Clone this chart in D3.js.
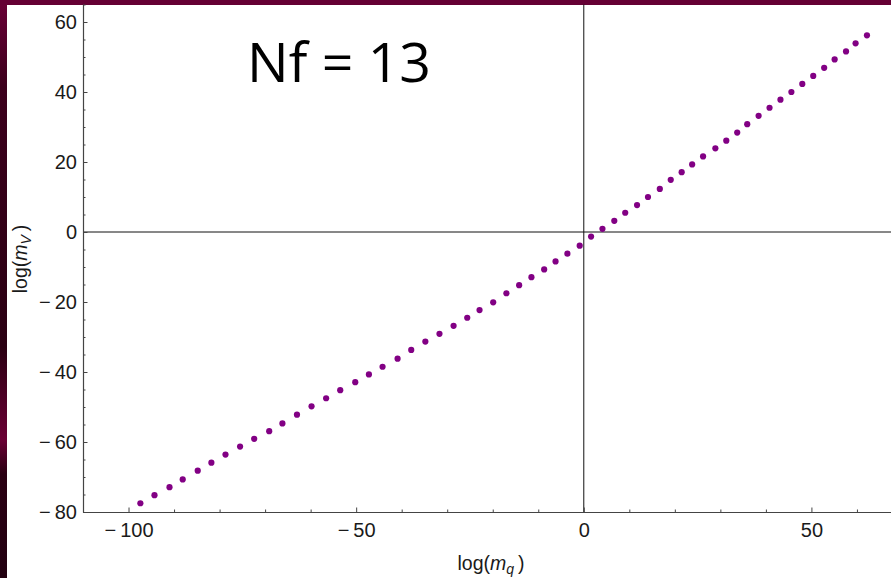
<!DOCTYPE html>
<html>
<head>
<meta charset="utf-8">
<script src="https://cdn.jsdelivr.net/npm/d3@7"></script>
<style>
  html, body { margin: 0; padding: 0; background: #3a0020; }
  svg { display: block; }
  .tick text { font-family: "Liberation Sans", Arial, sans-serif; font-size: 20px; fill: #1a1a1a; }
</style>
</head>
<body>
<div id="chart"></div>
<script>
// values (log m_q, log m_V)
const logMq = [-97.4, -94.3, -91.0, -88.1, -84.8, -81.8, -78.7, -75.5, -72.4, -69.1,
  -66.2, -63.0, -59.8, -56.6, -53.5, -50.2, -47.2, -44.2, -40.9, -37.9,
  -34.8, -31.7, -28.6, -25.6, -22.9, -19.9, -17.0, -14.2, -11.5, -8.7,
  -6.2, -3.6, -0.9, 1.6, 4.1, 6.7, 9.1, 11.7, 14.1, 16.7,
  19.1, 21.5, 23.8, 26.2, 28.9, 31.3, 33.7, 35.9, 38.4, 40.8,
  43.2, 45.6, 48.0, 50.4, 52.8, 55.1, 57.6, 59.7, 62.2];
const logMv = [-77.5, -75.2, -72.9, -70.7, -68.2, -65.9, -63.6, -61.3, -59.1, -56.9,
  -54.7, -52.2, -49.8, -47.5, -45.2, -42.9, -40.7, -38.5, -36.2, -33.7,
  -31.3, -29.1, -26.8, -24.5, -22.3, -20.1, -17.5, -15.2, -12.9, -10.7,
  -8.4, -6.2, -3.9, -1.3, 0.9, 3.2, 5.5, 7.7, 10.0, 12.3,
  14.9, 17.1, 19.3, 21.6, 23.9, 26.1, 28.4, 30.8, 33.2, 35.5,
  37.8, 40.0, 42.3, 44.6, 46.9, 49.3, 51.6, 53.9, 56.2];

const xDomain = [-110, 67.7];
const yDomain = [-80, 65];
const xMajor = [-100, -50, 0, 50];
const xMinor = d3.range(-110, 68, 10).filter(v => !xMajor.includes(v));
const yMajor = [-80, -60, -40, -20, 0, 20, 40, 60];
const yMinor = d3.range(-80, 66, 5).filter(v => !yMajor.includes(v));
const title = "Nf = 13";

const W = 891, H = 578;
const panel = {x: 7, y: 5};
const plot = {l: 83, r: 892, t: 4.5, b: 512};

const svg = d3.select('#chart').append('svg')
  .attr('width', W).attr('height', H);

// slide background
const defs = svg.append('defs');
const grad = defs.append('linearGradient').attr('id', 'bg')
  .attr('x1', 0).attr('y1', 0).attr('x2', 0).attr('y2', 1);
grad.append('stop').attr('offset', '0%').attr('stop-color', '#6a0036');
grad.append('stop').attr('offset', '15%').attr('stop-color', '#3c001c');
grad.append('stop').attr('offset', '60%').attr('stop-color', '#2a0012');
grad.append('stop').attr('offset', '76%').attr('stop-color', '#6a0034');
grad.append('stop').attr('offset', '82%').attr('stop-color', '#2a0012');
grad.append('stop').attr('offset', '100%').attr('stop-color', '#220010');
svg.append('rect').attr('width', W).attr('height', H).attr('fill', 'url(#bg)');
svg.append('rect').attr('width', W).attr('height', panel.y).attr('fill', '#650034');
svg.append('rect').attr('x', panel.x).attr('y', panel.y)
  .attr('width', W - panel.x).attr('height', H - panel.y).attr('fill', '#fff');

const x = d3.scaleLinear().domain(xDomain).range([plot.l, plot.r]);
const y = d3.scaleLinear().domain(yDomain).range([plot.b, plot.t]);

const fmt = d => d < 0 ? '\u2212\u2009' + Math.abs(d) : String(d);

// reference lines at zero
svg.append('line')
  .attr('x1', x(0)).attr('x2', x(0)).attr('y1', y(yDomain[1])).attr('y2', y(yDomain[0]))
  .attr('stroke', '#111').attr('stroke-width', 1);
svg.append('line')
  .attr('x1', x(xDomain[0])).attr('x2', x(xDomain[1])).attr('y1', y(0)).attr('y2', y(0))
  .attr('stroke', '#111').attr('stroke-width', 1);

// x axis
const gx = svg.append('g').attr('transform', `translate(0,${plot.b})`);
gx.call(d3.axisBottom(x).tickValues(xMinor).tickSize(-2.5).tickSizeOuter(0).tickFormat(''));
gx.append('g').call(d3.axisBottom(x).tickValues(xMajor).tickSize(-4.5).tickSizeOuter(0)
  .tickPadding(10.5).tickFormat(fmt));

// y axis
const gy = svg.append('g').attr('transform', `translate(${plot.l},0)`);
gy.call(d3.axisLeft(y).tickValues(yMinor).tickSize(-2.5).tickSizeOuter(0).tickFormat(''));
gy.append('g').call(d3.axisLeft(y).tickValues(yMajor).tickSize(-4.5).tickSizeOuter(0)
  .tickPadding(6).tickFormat(fmt));

svg.selectAll('.domain').attr('stroke', '#444').attr('stroke-width', 1.2);
svg.selectAll('.tick line').attr('stroke', '#444');
gx.selectAll('g > g .domain').remove();
gy.selectAll('g > g .domain').remove();

// points
svg.append('g').selectAll('circle')
  .data(logMq.map((v, i) => ({mq: v, mv: logMv[i]})))
  .join('circle')
  .attr('cx', d => x(d.mq))
  .attr('cy', d => y(d.mv))
  .attr('r', 3.1)
  .attr('fill', '#820084');

// axis labels
const labFont = '"Liberation Sans", Arial, sans-serif';
const xl = svg.append('text')
  .attr('x', 491).attr('y', 570)
  .attr('text-anchor', 'middle')
  .attr('font-family', labFont).attr('font-size', 19.5).attr('fill', '#1a1a1a');
xl.append('tspan').text('log(');
xl.append('tspan').attr('font-style', 'italic').text('m');
xl.append('tspan').attr('font-style', 'italic').attr('font-size', 14).attr('dy', 4).text('q');
xl.append('tspan').attr('dy', -4).text('\u2009)');

const yl = svg.append('text')
  .attr('transform', 'translate(27,259) rotate(-90)')
  .attr('text-anchor', 'middle')
  .attr('font-family', labFont).attr('font-size', 19.5).attr('fill', '#1a1a1a');
yl.append('tspan').text('log(');
yl.append('tspan').attr('font-style', 'italic').text('m');
yl.append('tspan').attr('font-style', 'italic').attr('font-size', 14).attr('dy', 4).text('V');
yl.append('tspan').attr('dy', -4).text('\u2009)');

// title
svg.append('text')
  .attr('x', 247).attr('y', 82)
  .attr('font-family', '"Open Sans", "Noto Sans", sans-serif')
  .attr('font-size', 55)
  .attr('textLength', 184).attr('lengthAdjust', 'spacingAndGlyphs')
  .attr('fill', '#000')
  .text(title);
</script>
</body>
</html>
